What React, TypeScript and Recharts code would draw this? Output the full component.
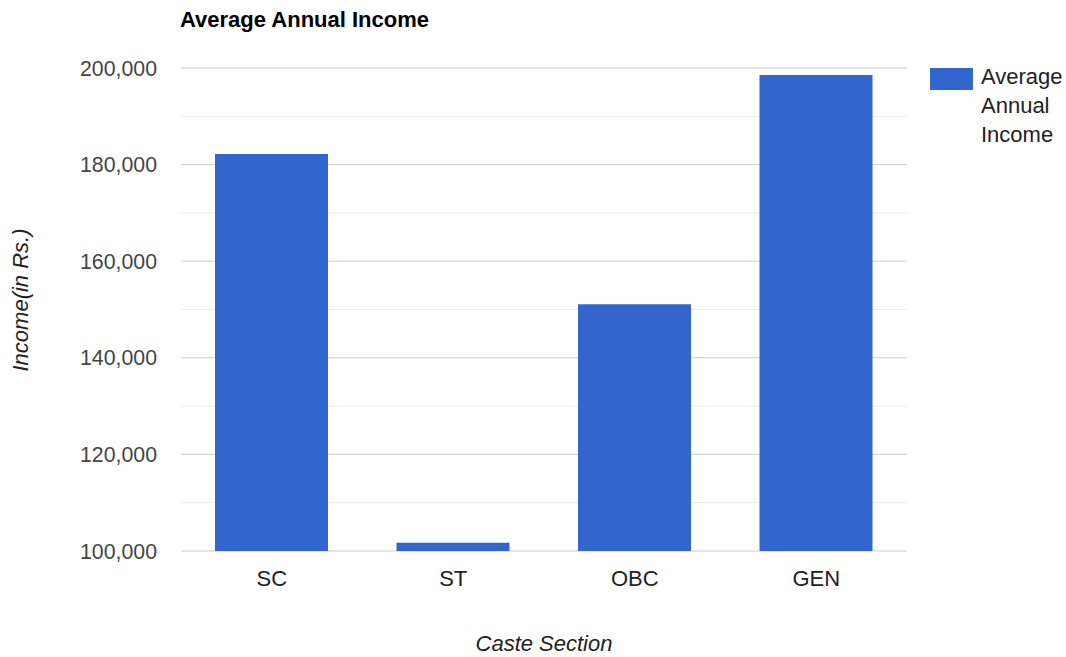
import React from 'react';
import { BarChart, Bar, XAxis, YAxis, CartesianGrid } from 'recharts';

const categories = ['SC', 'ST', 'OBC', 'GEN'];
const incomeValues = [182200, 101700, 151100, 198550];
const majorTicks = [100000, 120000, 140000, 160000, 180000, 200000];
const minorTicks = [110000, 130000, 150000, 170000, 190000];
const chartTitle = 'Average Annual Income';
const seriesName = 'Average Annual Income';
const legendLines = ['Average', 'Annual', 'Income'];
const xTitle = 'Caste Section';
const yTitle = 'Income(in Rs.)';

const data = categories.map((c, i) => ({ category: c, value: incomeValues[i] }));

const FONT = 'Arial, "Liberation Sans", sans-serif';
const fmt = (v: number) => v.toLocaleString('en-US');

export default function App() {
  return (
    <div style={{ position: 'absolute', left: 0, top: 0, width: 1066, height: 657, background: '#fff', fontFamily: FONT }}>
      <BarChart
        width={1066}
        height={657}
        data={data}
        margin={{ top: 68, right: 159, bottom: 0, left: 0 }}
      >
        <CartesianGrid vertical={false} horizontalValues={minorTicks} stroke="#ebebeb" strokeWidth={1} />
        <CartesianGrid vertical={false} horizontalValues={majorTicks} stroke="#cccccc" strokeWidth={1} />
        <XAxis
          dataKey="category"
          height={106}
          axisLine={false}
          tickLine={false}
          tickSize={0}
          tickMargin={19}
          tick={{ fill: '#222222', fontSize: 22, fontFamily: FONT }}
          label={{
            content: () => (
              <text x={544} y={643} textAnchor="middle" dominantBaseline="central" fontSize={22} fontStyle="italic" fill="#222222" fontFamily={FONT}>
                {xTitle}
              </text>
            ),
          }}
        />
        <YAxis
          width={181}
          domain={[100000, 200000]}
          ticks={majorTicks}
          allowDataOverflow
          axisLine={false}
          tickLine={false}
          tickSize={0}
          tickMargin={24}
          tickFormatter={fmt}
          tick={{ fill: '#444444', fontSize: 21.3, fontFamily: FONT }}
          label={{
            content: () => (
              <text x={20} y={300} textAnchor="middle" dominantBaseline="central" fontSize={22} fontStyle="italic" fill="#222222" fontFamily={FONT} transform="rotate(-90 20 300)">
                {yTitle}
              </text>
            ),
          }}
        />
        <Bar dataKey="value" name={seriesName} fill="#3366cc" barSize={113} isAnimationActive={false} />
      </BarChart>
      <div style={{ position: 'absolute', left: 180, top: 9, fontSize: 22, lineHeight: '22px', fontWeight: 'bold', color: '#000', whiteSpace: 'nowrap' }}>
        {chartTitle}
      </div>
      <div style={{ position: 'absolute', left: 930, top: 68, width: 43, height: 22, background: '#3366cc' }} />
      <div style={{ position: 'absolute', left: 981, top: 62, fontSize: 22, lineHeight: '29px', color: '#222222' }}>
        {legendLines.map((l) => (
          <div key={l}>{l}</div>
        ))}
      </div>
    </div>
  );
}
